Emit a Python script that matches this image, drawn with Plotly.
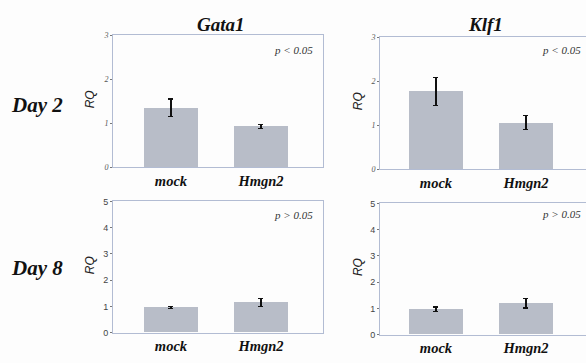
import plotly.graph_objects as go

categories = ["mock", "Hmgn2"]
genes = ["Gata1", "Klf1"]
days = ["Day 2", "Day 8"]

gata1_day2 = [1.35, 0.93]
gata1_day2_err = [0.20, 0.05]
klf1_day2 = [1.77, 1.06]
klf1_day2_err = [0.32, 0.16]
gata1_day8 = [0.96, 1.15]
gata1_day8_err = [0.03, 0.16]
klf1_day8 = [0.97, 1.19]
klf1_day8_err = [0.08, 0.18]

p_texts = ["p < 0.05", "p < 0.05", "p > 0.05", "p > 0.05"]
day2_ticks = [0, 1, 2, 3]
day8_ticks = [0, 1, 2, 3, 4, 5]

W, H = 586, 363
BAR = "#b8bdc8"
LINE = "#b2bcd3"
SERIF = "Liberation Serif"
SANS = "Liberation Sans"

panels = [
    (gata1_day2, gata1_day2_err, 113, 323, 31, 167, [-0.644, 1.689], 3, day2_ticks, True, p_texts[0], 315, 46),
    (klf1_day2, klf1_day2_err, 380, 586, 33, 169, [-0.622, 1.667], 3, day2_ticks, True, p_texts[1], 583, 46),
    (gata1_day8, gata1_day8_err, 113, 323, 202, 337, [-0.644, 1.689], 5, day8_ticks, False, p_texts[2], 315, 216),
    (klf1_day8, klf1_day8_err, 380, 586, 204, 339, [-0.622, 1.667], 5, day8_ticks, False, p_texts[3], 583, 215),
]

fig = go.Figure()
annotations = []
for i, (vals, errs, x0, x1, yt, yb, xr, ymax, ticks, serif, ptxt, px, py) in enumerate(panels, start=1):
    xa = "x" if i == 1 else f"x{i}"
    ya = "y" if i == 1 else f"y{i}"
    fig.add_trace(go.Bar(
        x=[0, 1], y=vals, width=0.61, marker=dict(color=BAR, line=dict(width=0)),
        error_y=dict(type="data", array=errs, color="#111", thickness=1.3, width=2.5),
        xaxis=xa, yaxis=ya, showlegend=False,
    ))
    right_edge = x1 >= W
    fig.layout[f"xaxis{'' if i == 1 else i}"] = dict(
        domain=[x0 / W, min(x1 / W, 1.0)], range=xr, anchor=ya,
        tickmode="array", tickvals=[0, 1], ticktext=categories,
        showline=True, linecolor=LINE, linewidth=1, mirror=True,
        showgrid=False, zeroline=False, ticks="",
        tickfont=dict(family=SERIF, size=14.5, color="#111", weight="bold", style="italic"),
        fixedrange=True,
    )
    if serif:
        tf = dict(family=SERIF, size=8, color="#555", style="italic")
    else:
        tf = dict(family=SANS, size=9, color="#444")
    fig.layout[f"yaxis{'' if i == 1 else i}"] = dict(
        domain=[(H - yb) / H, (H - yt) / H], range=[0, ymax], anchor=xa,
        tickmode="array", tickvals=ticks,
        showline=True, linecolor=LINE, linewidth=1, mirror=(not right_edge),
        showgrid=False, zeroline=False, ticks="outside", ticklen=2, tickcolor="#777",
        tickfont=tf, fixedrange=True,
    )
    annotations.append(dict(
        x=px / W, y=(H - py) / H, xref="paper", yref="paper", text=ptxt,
        showarrow=False, xanchor="right", yanchor="middle",
        font=dict(family=SERIF, size=11, color="#333", style="italic"),
    ))
    rq_x = 90 if x0 < 200 else 358
    annotations.append(dict(
        x=rq_x / W, y=(H - (yt + yb) / 2 + 2) / H, xref="paper", yref="paper", text="RQ",
        showarrow=False, textangle=-90, xanchor="center", yanchor="middle",
        font=dict(family=SANS, size=12, color="#222", style="italic"),
    ))

for gene, cx in zip(genes, [221, 485]):
    annotations.append(dict(
        x=cx / W, y=(H - 20) / H, xref="paper", yref="paper", text=gene,
        showarrow=False, xanchor="center", yanchor="middle",
        font=dict(family=SERIF, size=19, color="#111", weight="bold", style="italic"),
    ))
for day, cy in zip(days, [103, 270]):
    annotations.append(dict(
        x=37 / W, y=(H - cy) / H, xref="paper", yref="paper", text=day,
        showarrow=False, xanchor="center", yanchor="middle",
        font=dict(family=SERIF, size=21, color="#111", weight="bold", style="italic"),
    ))

fig.update_layout(
    width=W, height=H, margin=dict(l=0, r=0, t=0, b=0),
    paper_bgcolor="#fdfdfd", plot_bgcolor="#fdfdfd",
    annotations=annotations, bargap=0,
)
fig.write_html("out.html", config={"displayModeBar": False})
